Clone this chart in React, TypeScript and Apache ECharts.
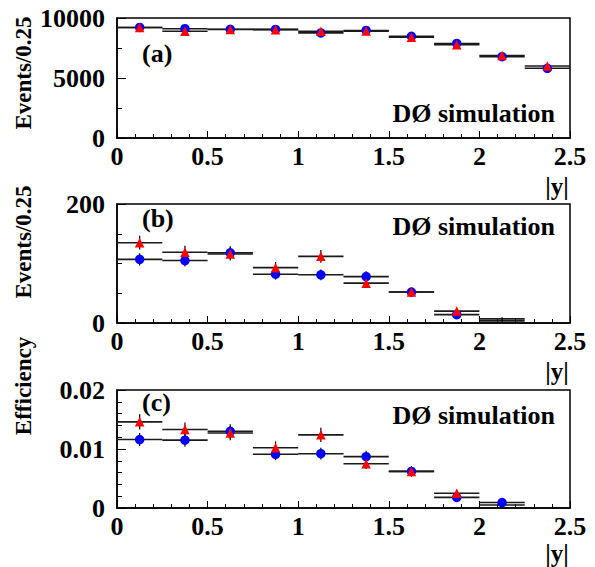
import React, { useEffect, useRef } from "react";
import * as echarts from "echarts";

// bins in |y|
const binCenters = [0.125, 0.375, 0.625, 0.875, 1.125, 1.375, 1.625, 1.875, 2.125, 2.375];
const binHalfWidth = 0.125;

// x-axis ticks
const xTicks = [0, 0.5, 1, 1.5, 2, 2.5];

// (a) Events/0.25
const blueA = [9210, 9110, 9060, 9050, 8760, 8960, 8470, 7880, 6780, 5810];
const redA = [9210, 8900, 9040, 9030, 8900, 8910, 8400, 7780, 6880, 6000];
const blueAErr = [96, 95, 95, 95, 94, 95, 92, 89, 82, 76];
const redAErr = [96, 94, 95, 95, 94, 94, 92, 88, 83, 77];

// (b) Events/0.25
const blueB = [107, 105, 118, 82, 81, 78, 52, 14, 7];
const redB = [135, 119, 116, 93, 112, 67, 52, 20, 3.5];
const blueBErr = [10.3, 10.2, 10.9, 9.1, 9.0, 8.8, 7.2, 3.7, 2.6];
const redBErr = [11.6, 10.9, 10.8, 9.6, 10.6, 8.2, 7.2, 4.5, 1.9];
const blueBMarker = [1, 1, 1, 1, 1, 1, 1, 1, 0];
const redBMarker = [1, 1, 1, 1, 1, 1, 1, 1, 0];

// (c) Efficiency
const blueC = [0.0116, 0.0115, 0.013, 0.0091, 0.0092, 0.0087, 0.0062, 0.0018, 0.00092];
const redC = [0.0146, 0.0133, 0.0127, 0.0102, 0.0124, 0.0075, 0.0062, 0.0025, 0.0005];
const blueCErr = [0.0011, 0.0011, 0.0012, 0.001, 0.001, 0.001, 0.00085, 0.00048, 0.0003];
const redCErr = [0.0013, 0.0012, 0.0012, 0.0011, 0.0012, 0.0009, 0.00085, 0.00058, 0.0003];
const blueCMarker = [1, 1, 1, 1, 1, 1, 1, 1, 1];
const redCMarker = [1, 1, 1, 1, 1, 1, 1, 1, 0];

const panelLabels = ["(a)", "(b)", "(c)"];
const yTitles = ["Events/0.25", "Events/0.25", "Efficiency"];
const simText = "DØ simulation";
const xTitle = "|y|";

const FONT = "Liberation Serif";

const grids = [
  { top: 18, height: 120 },
  { top: 204, height: 119 },
  { top: 390, height: 118 },
];
const GRID_LEFT = 117;
const GRID_W = 453;

function errorSeries(idx: number, values: number[], errs: number[]) {
  return {
    type: "custom",
    xAxisIndex: idx,
    yAxisIndex: idx,
    z: 2,
    silent: true,
    data: values.map((v, i) => [binCenters[i], v, errs[i]]),
    renderItem: (params: any, api: any) => {
      const x = api.value(0);
      const y = api.value(1);
      const e = api.value(2);
      const l = api.coord([x - binHalfWidth, y]);
      const r = api.coord([x + binHalfWidth, y]);
      const t = api.coord([x, y + e]);
      const b = api.coord([x, y - e]);
      return {
        type: "group",
        children: [
          {
            type: "line",
            shape: { x1: l[0], y1: l[1], x2: r[0], y2: r[1] },
            style: { stroke: "#1a1a1a", lineWidth: 1.6 },
          },
          {
            type: "line",
            shape: { x1: t[0], y1: t[1], x2: b[0], y2: b[1] },
            style: { stroke: "#000", lineWidth: 1.2 },
          },
        ],
      };
    },
  };
}

function markerSeries(idx: number, values: number[], show: number[] | null, symbol: string, color: string, z: number) {
  return {
    type: "scatter",
    xAxisIndex: idx,
    yAxisIndex: idx,
    z,
    silent: true,
    symbol,
    symbolSize: 9.5,
    itemStyle: { color, opacity: 1 },
    data: values
      .map((v, i) => [binCenters[i], v, show ? show[i] : 1])
      .filter((d) => d[2] === 1)
      .map((d) => [d[0], d[1]]),
  };
}

export default function App() {
  const ref = useRef<HTMLDivElement>(null);
  useEffect(() => {
    if (!ref.current) return;
    const chart = echarts.init(ref.current, undefined, { renderer: "svg" });

    const labelStyle = { fontFamily: FONT, fontWeight: "bold", fontSize: 26, color: "#000" };

    const xAxes = grids.map((_, i) => ({
      type: "value",
      gridIndex: i,
      min: 0,
      max: 2.5,
      interval: 0.5,
      axisLine: { show: true, onZero: false, lineStyle: { color: "#000", width: 1.5 } },
      axisTick: { show: true, inside: true, length: 7, lineStyle: { color: "#000", width: 1 } },
      minorTick: { show: true, splitNumber: 5, length: 4, lineStyle: { color: "#000", width: 1 } },
      splitLine: { show: false },
      axisLabel: { ...labelStyle, margin: 5, formatter: (v: number) => (xTicks.includes(v) ? String(v) : "") },
    }));

    const yAxes = [
      {
        type: "value",
        gridIndex: 0,
        min: 0,
        max: 10000,
        interval: 5000,
        minorTick: { show: true, splitNumber: 2, length: 5, lineStyle: { color: "#000" } },
      },
      {
        type: "value",
        gridIndex: 1,
        min: 0,
        max: 200,
        interval: 200,
        minorTick: { show: true, splitNumber: 4, length: 5, lineStyle: { color: "#000" } },
      },
      {
        type: "value",
        gridIndex: 2,
        min: 0,
        max: 0.02,
        interval: 0.01,
        minorTick: { show: true, splitNumber: 5, length: 5, lineStyle: { color: "#000" } },
      },
    ].map((a) => ({
      ...a,
      axisLine: { show: true, onZero: false, lineStyle: { color: "#000", width: 1.5 } },
      axisTick: { show: true, inside: true, length: 9, lineStyle: { color: "#000", width: 1 } },
      splitLine: { show: false },
      axisLabel: {
        ...labelStyle,
        margin: 12,
        formatter: (v: number) => String(parseFloat(v.toPrecision(6))),
      },
    }));

    const series: any[] = [
      errorSeries(0, blueA, blueAErr),
      errorSeries(0, redA, redAErr),
      markerSeries(0, blueA, null, "circle", "#0000ff", 3),
      markerSeries(0, redA, null, "triangle", "#ff0000", 4),
      errorSeries(1, blueB, blueBErr),
      errorSeries(1, redB, redBErr),
      markerSeries(1, blueB, blueBMarker, "circle", "#0000ff", 3),
      markerSeries(1, redB, redBMarker, "triangle", "#ff0000", 4),
      errorSeries(2, blueC, blueCErr),
      errorSeries(2, redC, redCErr),
      markerSeries(2, blueC, blueCMarker, "circle", "#0000ff", 3),
      markerSeries(2, redC, redCMarker, "triangle", "#ff0000", 4),
    ];

    const textStyle = (size: number) => ({
      fontFamily: FONT,
      fontWeight: "bold",
      fontSize: size,
      fill: "#000",
    });

    const graphics: any[] = [];
    grids.forEach((g, i) => {
      const bottom = g.top + g.height;
      graphics.push({
        type: "text",
        x: 142,
        y: g.top + [35, 14, 12][i],
        style: { ...textStyle(26), text: panelLabels[i], textAlign: "left", textVerticalAlign: "middle" },
      });
      graphics.push({
        type: "text",
        x: 555,
        y: g.top + [95, 22, 25][i],
        style: { ...textStyle(26), text: simText, textAlign: "right", textVerticalAlign: "middle" },
      });
      graphics.push({
        type: "text",
        x: 557,
        y: bottom + [48, 48, 45][i],
        style: { ...textStyle(25), text: xTitle, textAlign: "center", textVerticalAlign: "middle" },
      });
      graphics.push({
        type: "text",
        x: 23,
        y: [73, 242, 386][i],
        rotation: Math.PI / 2,
        style: { ...textStyle(23), text: yTitles[i], textAlign: "center", textVerticalAlign: "middle" },
      });
    });

    chart.setOption({
      animation: false,
      backgroundColor: "#fff",
      grid: grids.map((g) => ({
        left: GRID_LEFT,
        top: g.top,
        width: GRID_W,
        height: g.height,
        show: true,
        borderColor: "#000",
        borderWidth: 1.5,
        backgroundColor: "transparent",
      })),
      xAxis: xAxes,
      yAxis: yAxes,
      series,
      graphic: graphics,
    });
    return () => chart.dispose();
  }, []);
  return (
    <div
      ref={ref}
      style={{ position: "absolute", left: 0, top: 0, width: 595, height: 567, background: "#fff" }}
    />
  );
}
